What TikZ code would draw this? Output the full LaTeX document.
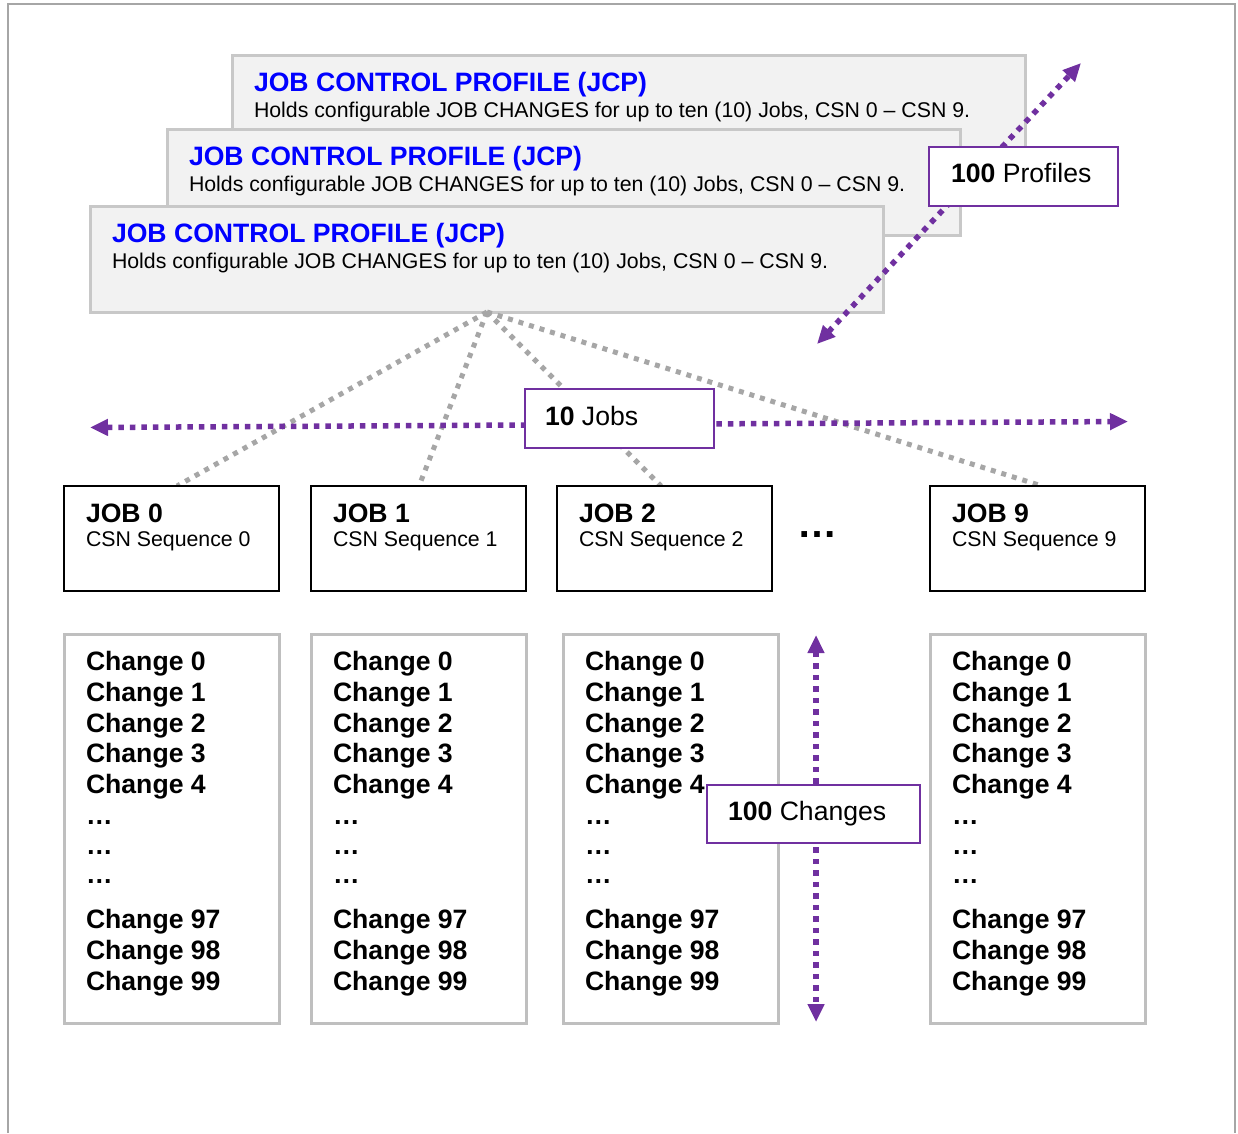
\documentclass[tikz,border=0pt]{standalone}
\usepackage{fontspec}
\setmainfont{Liberation Sans}
\usetikzlibrary{arrows.meta}

\definecolor{jcpblue}{HTML}{0000FF}
\definecolor{purp}{HTML}{7030A0}
\definecolor{panelfill}{HTML}{F2F2F2}
\definecolor{panelline}{HTML}{C8C8C8}
\definecolor{listline}{HTML}{BFBFBF}
\definecolor{linkgray}{HTML}{A6A6A6}
\definecolor{framegray}{HTML}{A6A6A6}

\newcommand\bigtxt{\fontsize{26.6pt}{30pt}\selectfont}
\newcommand\smalltxt{\fontsize{21.3pt}{25pt}\selectfont}

\tikzset{
  boxbase/.style={rectangle, inner sep=0pt, outer sep=0pt, anchor=north west},
  jcpbox/.style={boxbase, draw=panelline, fill=panelfill, line width=3pt,
    minimum width=793pt, minimum height=106pt},
  jobbox/.style={boxbase, draw=black, fill=white, line width=2.5pt,
    minimum width=215pt, minimum height=105pt},
  listbox/.style={boxbase, draw=listline, fill=white, line width=3pt,
    minimum width=215pt, minimum height=389pt},
  tagbox/.style={boxbase, draw=purp, fill=white, line width=2pt, minimum height=59pt},
  txt/.style={anchor=base west, inner sep=0pt, outer sep=0pt},
  jcptitle/.style={txt, font=\bigtxt\bfseries, text=jcpblue},
  jcpdesc/.style={txt, font=\smalltxt},
  link/.style={draw=linkgray, line width=5pt, dash pattern=on 5pt off 6pt},
  span/.style={draw=purp, line width=5.5pt, dash pattern=on 5.5pt off 6pt,
    {Triangle[length=18pt,width=16pt]}-{Triangle[length=18pt,width=16pt]}},
  frameline/.style={draw=framegray, line width=2pt},
}

\begin{document}
\begin{tikzpicture}[x=1pt, y=-1pt]
\useasboundingbox (0,0) rectangle (1238,1133);

% outer frame, open at the bottom
\draw[frameline] (8,1133) -- (8,4) -- (1235,4) -- (1235,1133);

% stacked job control profiles, back to front
\foreach \px/\py/\nm in {232/55/A, 167/129/B, 90/206/C}{
  \node[jcpbox] (jcp\nm) at (\px,\py) {};
  \node[jcptitle] (jcp\nm-title) at (\px+22,\py+36) {JOB CONTROL PROFILE (JCP)};
  \node[jcpdesc] (jcp\nm-desc) at (\px+22,\py+62)
    {Holds configurable JOB CHANGES for up to ten (10) Jobs, CSN 0 – CSN 9.};
}

% links from the front profile to the jobs
\coordinate (apex) at (487,312);
\coordinate (in0) at (177,486);
\coordinate (in1) at (419,486);
\coordinate (in2) at (661,486);
\coordinate (in9) at (1042,486);
\foreach \k in {0,1,2,9}{
  \draw[link] (apex) -- (in\k);
}

% job boxes
\foreach \bx/\n in {64/0, 311/1, 557/2, 930/9}{
  \node[jobbox] (job\n) at (\bx,486) {};
  \node[txt, font=\bigtxt\bfseries] (job\n-name) at (\bx+22,522) {JOB \n};
  \node[txt, font=\smalltxt] (job\n-seq) at (\bx+22,546) {CSN Sequence \n};
}
\node[txt, font=\fontsize{40pt}{44pt}\selectfont\bfseries] (jobgap) at (797,537) {…};

% change lists
\foreach \bx/\n in {64/0, 311/1, 563/2, 930/9}{
  \node[listbox] (list\n) at (\bx,634) {};
  \foreach \ly/\lt [count=\r] in {670/Change 0, 701/Change 1, 732/Change 2,
      762/Change 3, 793/Change 4, 824/…, 854/…, 883/…,
      928/Change 97, 959/Change 98, 990/Change 99}{
    \node[txt, font=\bigtxt\bfseries] (list\n-\r) at (\bx+22,\ly) {\lt};
  }
}

% span arrows
\coordinate (prof-lo) at (817,344);
\coordinate (prof-hi) at (1081,63);
\coordinate (jobs-l) at (90,427.5);
\coordinate (jobs-r) at (1128,421.5);
\coordinate (chg-top) at (816,635);
\coordinate (chg-bot) at (816,1022);
\draw[span] (prof-lo) -- (prof-hi);
\draw[span] (jobs-l) -- (jobs-r);
\draw[span] (chg-top) -- (chg-bot);

% span labels
\node[tagbox, minimum width=189pt] (tagprof) at (929,147) {};
\node[txt, font=\bigtxt] (tagprof-t) at (951,182) {\textbf{100} Profiles};
\node[tagbox, minimum width=189pt] (tagjobs) at (525,389) {};
\node[txt, font=\bigtxt] (tagjobs-t) at (545,425) {\textbf{10} Jobs};
\node[tagbox, minimum width=213pt, minimum height=58pt] (tagchg) at (707,785) {};
\node[txt, font=\bigtxt] (tagchg-t) at (728,820) {\textbf{100} Changes};
\end{tikzpicture}
\end{document}
